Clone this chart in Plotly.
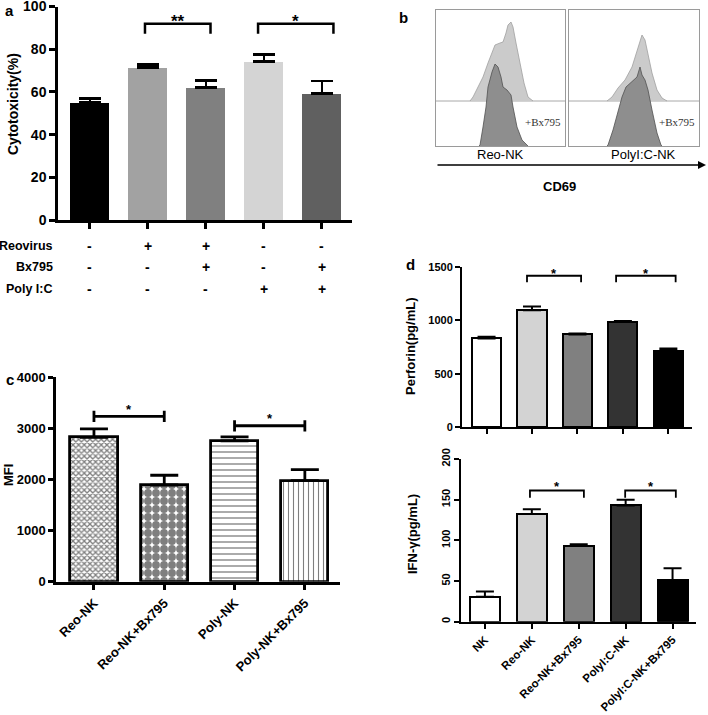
import plotly.graph_objects as go

W, H = 708, 715
def fx(px):
    return px / W
def fy(py):
    return 1 - py / H

SANS = "Liberation Sans"
SERIF = "Liberation Serif"

# ---------------- Panel a data ----------------
a_pos = [0, 1, 2, 3, 4]
a_vals = [55.0, 71.5, 62.0, 74.3, 59.3]
a_errs = [1.9, 1.4, 3.3, 3.3, 5.7]
a_colors = ["#000000", "#a2a2a2", "#808080", "#d4d4d4", "#606060"]
a_yticks = [0, 20, 40, 60, 80, 100]
a_rows = ["Reovirus", "Bx795", "Poly I:C"]
a_signs = [["-", "+", "+", "-", "-"],
           ["-", "-", "+", "-", "+"],
           ["-", "-", "-", "+", "+"]]
a_sig = [(0.95, 2.08, 91.9, 87.2, "**"), (2.9, 4.2, 91.9, 87.2, "*")]

# ---------------- Panel b data (CD69 histograms) ----------------
b_left_light_x = [34, 37, 42, 47, 52, 57, 59, 64, 67, 70, 72, 75, 77, 80, 84, 88, 92, 97]
b_left_light_c = [0, 4, 14, 24, 38, 51, 56, 58, 59, 68, 76, 79, 74, 58, 38, 18, 4, 0]
b_left_dark_x = [43, 44, 47, 50, 52, 56, 59, 62, 65, 67, 71, 75, 77, 81, 86, 91, 92]
b_left_dark_c = [0, 1, 19, 39, 59, 74, 82, 79, 69, 59, 56, 51, 39, 19, 6, 1, 0]
b_right_light_x = [38, 43, 49, 56, 63, 68, 71, 73, 76, 79, 83, 88, 93, 98]
b_right_light_c = [0, 4, 13, 21, 34, 51, 61, 66, 61, 48, 28, 11, 3, 0]
b_right_dark_x = [38, 39, 44, 49, 53, 57, 61, 64, 68, 71, 73, 76, 79, 83, 88, 92, 93]
b_right_dark_c = [0, 1, 16, 33, 49, 59, 63, 66, 69, 79, 71, 66, 56, 36, 13, 1, 0]
b_offset = 45
b_names = ["Reo-NK", "PolyI:C-NK"]

# ---------------- Panel c data ----------------
c_pos = [0, 1, 2, 3]
c_labels = ["Reo-NK", "Reo-NK+Bx795", "Poly-NK", "Poly-NK+Bx795"]
c_vals = [2820, 1890, 2750, 1975]
c_errs = [165, 190, 80, 215]
c_patterns = [("x", 4, 0.55), (".", 8, 0.75), ("-", 6, 0.22), ("|", 5, 0.22)]
c_yticks = [0, 1000, 2000, 3000, 4000]
c_sig = [(0.0, 1.0, 3229, 110, "*"), (2.0, 3.0, 3047, 110, "*")]

# ---------------- Panel d data ----------------
d_pos = [0, 1, 2, 3, 4]
d_labels = ["NK", "Reo-NK", "Reo-NK+Bx795", "PolyI:C-NK", "PolyI:C-NK+Bx795"]
d_colors = ["#ffffff", "#d3d3d3", "#808080", "#333333", "#000000"]
perf_vals = [830, 1094, 868, 984, 717]
perf_errs = [16, 35, 9, 9, 19]
perf_yticks = [0, 500, 1000, 1500]
perf_sig = [(0.89, 2.08, 1418, 1356, "*"), (2.85, 4.16, 1418, 1356, "*")]
ifn_vals = [30.8, 132.3, 93.2, 142.9, 51.4]
ifn_errs = [6.2, 6.0, 2.0, 7.0, 14.3]
ifn_yticks = [0, 50, 100, 150, 200]
ifn_sig = [(0.96, 2.11, 161.3, 152.3, "*"), (2.99, 4.07, 161.3, 152.3, "*")]

fig = go.Figure()
ann = []

def label(x, y, text, size, xref="paper", yref="paper", bold=True, angle=0,
          xanchor="center", yanchor="middle", family=SANS, color="black"):
    f = dict(family=family, size=size, color=color)
    if bold:
        f["weight"] = "bold"
    ann.append(dict(x=x, y=y, xref=xref, yref=yref, text=text, showarrow=False,
                    xanchor=xanchor, yanchor=yanchor, textangle=angle, font=f))

# ---------------- Panel a ----------------
fig.add_trace(go.Bar(
    x=a_pos, y=a_vals, width=0.67, marker=dict(color=a_colors, line=dict(width=0)),
    error_y=dict(type="data", symmetric=False, array=a_errs, arrayminus=[0] * 5,
                 color="black", thickness=2.5, width=11),
    xaxis="x", yaxis="y"))
for x0, x1, yt, yb, s in a_sig:
    fig.add_trace(go.Scatter(x=[x0, x0, x1, x1], y=[yb, yt, yt, yb], mode="lines",
                             line=dict(color="black", width=2.5), xaxis="x", yaxis="y"))
    label((x0 + x1) / 2, yt + 1.2, s, 17, xref="x", yref="y")
row_y = [246, 267, 289]
for r, lab in enumerate(a_rows):
    label(fx(55), fy(row_y[r]), lab, 12.5, xanchor="right")
    for i, s in enumerate(a_signs[r]):
        label(a_pos[i], fy(row_y[r]), s, 14, xref="x")
label(fx(13), fy(104), "Cytotoxicity(%)", 14, angle=-90)

# ---------------- Panel b ----------------
for lx, lc, dx, dc, xa, ya, xr in [
        (b_left_light_x, b_left_light_c, b_left_dark_x, b_left_dark_c, "x2", "y2", 129),
        (b_right_light_x, b_right_light_c, b_right_dark_x, b_right_dark_c, "x3", "y3", 130)]:
    fig.add_trace(go.Scatter(x=[0, xr], y=[b_offset, b_offset], mode="lines",
                             line=dict(color="#a8a8a8", width=1), xaxis=xa, yaxis=ya))
    fig.add_trace(go.Scatter(x=lx, y=[b_offset + c for c in lc], mode="lines", fill="toself",
                             fillcolor="#cbcbcb", line=dict(color="#a0a0a0", width=0.8),
                             xaxis=xa, yaxis=ya))
    fig.add_trace(go.Scatter(x=dx, y=dc, mode="lines", fill="tozeroy",
                             fillcolor="#8e8e8e", line=dict(color="#505050", width=0.8),
                             xaxis=xa, yaxis=ya))
    label(xr * 0.83, 24, "+Bx795", 11, xref=xa, yref=ya, bold=False, family=SERIF,
          color="#333333")
label(fx(500), fy(154), b_names[0], 13, bold=False)
label(fx(643), fy(154), b_names[1], 13, bold=False)
ann.append(dict(x=fx(706), y=fy(165), xref="paper", yref="paper", text="", showarrow=True,
                ax=-270, ay=0, arrowhead=2, arrowsize=1, arrowwidth=1.6, arrowcolor="black"))
label(fx(559), fy(187), "CD69", 13)

# ---------------- Panel c ----------------
for i in range(4):
    sh, sz, so = c_patterns[i]
    fig.add_trace(go.Bar(
        x=[c_pos[i]], y=[c_vals[i]], width=0.67,
        marker=dict(color="white", line=dict(color="black", width=2.8),
                    pattern=dict(shape=sh, size=sz, solidity=so, fgcolor="black",
                                 bgcolor="white", fillmode="overlay")),
        error_y=dict(type="data", symmetric=False, array=[c_errs[i]], arrayminus=[0],
                     color="black", thickness=2.8, width=14),
        xaxis="x4", yaxis="y4"))
for x0, x1, yc, h, s in c_sig:
    fig.add_trace(go.Scatter(x=[x0, x0, None, x0, x1, None, x1, x1],
                             y=[yc - h, yc + h, None, yc, yc, None, yc - h, yc + h],
                             mode="lines", line=dict(color="black", width=2.8),
                             xaxis="x4", yaxis="y4"))
    label((x0 + x1) / 2, yc + 145, s, 13, xref="x4", yref="y4")
label(fx(8), fy(475), "MFI", 13, angle=-90)

# ---------------- Panel d ----------------
for vals, errs, sig, xa, ya, yoff in [
        (perf_vals, perf_errs, perf_sig, "x5", "y5", 25),
        (ifn_vals, ifn_errs, ifn_sig, "x6", "y6", 4.6)]:
    fig.add_trace(go.Bar(
        x=d_pos, y=vals, width=0.64,
        marker=dict(color=d_colors, line=dict(color="black", width=2)),
        error_y=dict(type="data", symmetric=False, array=errs, arrayminus=[0] * 5,
                     color="black", thickness=2, width=9),
        xaxis=xa, yaxis=ya))
    for x0, x1, yt, yb, s in sig:
        fig.add_trace(go.Scatter(x=[x0, x0, x1, x1], y=[yb, yt, yt, yb], mode="lines",
                                 line=dict(color="black", width=1.8), xaxis=xa, yaxis=ya))
        label((x0 + x1) / 2, yt + yoff, s, 13, xref=xa, yref=ya)
label(fx(411), fy(346), "Perforin(pg/mL)", 13, angle=-90)
label(fx(412), fy(534), "IFN-γ(pg/mL)", 13, angle=-90)

# ---------------- Panel letters ----------------
for letter, px, py in [("a", 9, 11), ("b", 403, 17), ("c", 10, 379), ("d", 410, 264)]:
    label(fx(px), fy(py), letter, 15)

def bar_x(dom, rng, tickvals, ticktext=None, lw=2.5, tl=6, tw=2.5, fs=13, show=False):
    return dict(domain=dom, range=rng, showline=True, linecolor="black", linewidth=lw,
                ticks="outside", ticklen=tl, tickwidth=tw, tickcolor="black",
                tickvals=tickvals, ticktext=ticktext, showticklabels=show,
                tickangle=-45, showgrid=False, zeroline=False, fixedrange=True,
                automargin=False,
                tickfont=dict(family=SANS, size=fs, color="black", weight="bold"))

def bar_y(dom, rng, tickvals, lw=2.5, tl=6, tw=2.5, fs=14, angle=0):
    return dict(domain=dom, range=rng, showline=True, linecolor="black", linewidth=lw,
                ticks="outside", ticklen=tl, tickwidth=tw, tickcolor="black",
                tickvals=tickvals, showgrid=False, zeroline=False, tickangle=angle,
                automargin=False,
                tickfont=dict(family=SANS, size=fs, color="black", weight="bold"))

def hist_ax(dom, rng, anchor):
    return dict(domain=dom, range=rng, showline=True, mirror=True, linecolor="#9a9a9a",
                linewidth=1, ticks="", showticklabels=False, showgrid=False,
                zeroline=False, anchor=anchor, automargin=False)

layout = dict(
    width=W, height=H, margin=dict(l=0, r=0, t=0, b=0, pad=0, autoexpand=False),
    paper_bgcolor="white", plot_bgcolor="white", showlegend=False,
    annotations=ann,
    xaxis=bar_x([fx(58), fx(352)], [-0.55, 4.52], a_pos),
    yaxis=bar_y([fy(220), fy(6.5)], [0, 100], a_yticks),
    xaxis2=hist_ax([fx(436), fx(565)], [0, 129], "y2"),
    yaxis2=hist_ax([fy(146), fy(10)], [0, 136], "x2"),
    xaxis3=hist_ax([fx(569), fx(699)], [0, 130], "y3"),
    yaxis3=hist_ax([fy(146), fy(10)], [0, 136], "x3"),
    xaxis4=bar_x([fx(56), fx(340)], [-0.54, 3.5], c_pos, c_labels, show=True, fs=13),
    yaxis4=bar_y([fy(581.7), fy(377)], [0, 4000], c_yticks, tl=5, fs=13),
    xaxis5=bar_x([fx(462), fx(692)], [-0.54, 4.52], d_pos, lw=2, tl=5, tw=1.8),
    yaxis5=bar_y([fy(427), fy(267)], [0, 1500], perf_yticks, lw=2, tl=5, tw=1.8, fs=11),
    xaxis6=bar_x([fx(461), fx(696)], [-0.51, 4.5], d_pos, d_labels, lw=2, tl=5, tw=1.8,
                 fs=11.5, show=True),
    yaxis6=bar_y([fy(621.7), fy(459)], [0, 200], ifn_yticks, lw=2, tl=5, tw=1.8, fs=11,
                 angle=-90),
)
for xa, ya in [("xaxis", "y"), ("xaxis4", "y4"), ("xaxis5", "y5"), ("xaxis6", "y6")]:
    layout[xa]["anchor"] = ya
for ya, xa in [("yaxis", "x"), ("yaxis4", "x4"), ("yaxis5", "x5"), ("yaxis6", "x6")]:
    layout[ya]["anchor"] = xa
fig.update_layout(**layout)
fig.update_layout(bargap=0)
fig.write_html("out.html", config={"displayModeBar": False},
               post_script="document.body.style.margin='0';")
